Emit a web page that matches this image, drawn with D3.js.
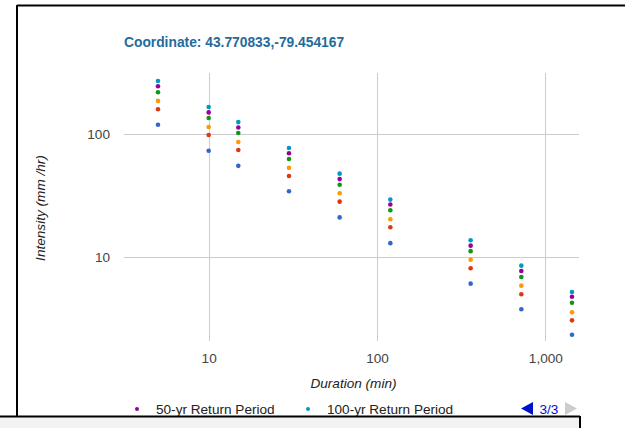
<!DOCTYPE html>
<html><head><meta charset="utf-8">
<script src="https://cdn.jsdelivr.net/npm/d3@7"></script>
<style>
html,body{margin:0;padding:0;background:#fff;}
svg{display:block;font-family:Arial,"Liberation Sans",sans-serif;}
</style></head>
<body><svg id="c" width="625" height="428"></svg>
<script>
const title = "Coordinate: 43.770833,-79.454167";
const durations = [5, 10, 15, 30, 60, 120, 360, 720, 1440];
const seriesNames = ["2-yr Return Period","5-yr Return Period","10-yr Return Period","25-yr Return Period","50-yr Return Period","100-yr Return Period"];
const seriesColors = ["#3366cc","#dc3912","#ff9900","#109618","#990099","#0099c6"];
const yr2   = [119, 73, 55, 34.1, 20.9, 12.9, 6.03, 3.73, 2.31];
const yr5   = [159, 98, 74, 45.5, 28.1, 17.4, 8.04, 4.94, 3.03];
const yr10  = [186, 114, 86, 53.1, 32.9, 20.2, 9.46, 5.81, 3.52];
const yr25  = [219, 135, 102, 62.6, 38.6, 23.9, 11.1, 6.83, 4.22];
const yr50  = [245, 150, 113, 69.6, 42.9, 26.6, 12.3, 7.64, 4.72];
const yr100 = [270, 166, 125, 76.9, 47.5, 29.2, 13.6, 8.45, 5.16];
const seriesValues = [yr2, yr5, yr10, yr25, yr50, yr100];
const xTicks = [10, 100, 1000];
const yTicks = [10, 100];
const legendShown = [4, 5];
const pagerText = "3/3";

const svg = d3.select("#c");
const L = 124, R = 579, T = 73, B = 341;
const FS = 13.6;
const x = d3.scaleLog().domain([Math.pow(10,0.497), Math.pow(10,3.2)]).range([L, R]);
const y = d3.scaleLog().domain([Math.pow(10,0.313), Math.pow(10,2.497)]).range([B, T]);

// frame
svg.append("line").attr("x1",17).attr("x2",625).attr("y1",5.5).attr("y2",5.5).attr("stroke","#000").attr("stroke-width",2);
svg.append("line").attr("x1",17).attr("x2",17).attr("y1",5).attr("y2",416).attr("stroke","#000").attr("stroke-width",2);

// gridlines
const g = svg.append("g");
g.selectAll(".vg").data(xTicks).join("line")
  .attr("x1",d=>Math.round(x(d))+0.5).attr("x2",d=>Math.round(x(d))+0.5)
  .attr("y1",T).attr("y2",B).attr("stroke","#cccccc");
g.selectAll(".hg").data(yTicks).join("line")
  .attr("y1",d=>Math.round(y(d))+0.5).attr("y2",d=>Math.round(y(d))+0.5)
  .attr("x1",L).attr("x2",R).attr("stroke","#cccccc");

// axis labels via d3 axes
const fmt = d3.format(",");
const xa = svg.append("g").attr("transform",`translate(0,${B})`)
  .call(d3.axisBottom(x).tickValues(xTicks).tickFormat(fmt).tickSize(0).tickPadding(12));
xa.select(".domain").remove();
xa.selectAll("text").attr("font-size",FS).attr("fill","#444").attr("font-family","Arial,'Liberation Sans',sans-serif");
const ya = svg.append("g").attr("transform",`translate(${L},0)`)
  .call(d3.axisLeft(y).tickValues(yTicks).tickFormat(fmt).tickSize(0).tickPadding(14));
ya.select(".domain").remove();
ya.selectAll("text").attr("font-size",FS).attr("fill","#444").attr("font-family","Arial,'Liberation Sans',sans-serif");

// points
seriesValues.forEach((vals, si) => {
  svg.append("g").selectAll("circle").data(vals.map((v,i)=>({d:durations[i], v})))
    .join("circle").attr("cx",p=>x(p.d)).attr("cy",p=>y(p.v)).attr("r",2.3)
    .attr("fill",seriesColors[si]);
});

// title
svg.append("text").attr("x",124).attr("y",46.5).text(title)
  .attr("font-size",13.8).attr("font-weight","bold").attr("fill","#1f6c9c");

// axis titles
svg.append("text").attr("x",(L+R)/2+2).attr("y",388).attr("text-anchor","middle")
  .attr("font-size",FS).attr("font-style","italic").attr("fill","#222").text("Duration (min)");
svg.append("text").attr("transform","translate(45,208) rotate(-90)").attr("text-anchor","middle")
  .attr("font-size",FS).attr("font-style","italic").attr("fill","#222").text("Intensity (mm /hr)");

// legend
const legX = [137, 308];
legendShown.forEach((si, k) => {
  svg.append("circle").attr("cx",legX[k]).attr("cy",409).attr("r",2).attr("fill",seriesColors[si]);
  svg.append("text").attr("x",legX[k]+19).attr("y",413.5).attr("font-size",FS).attr("fill","#222").text(seriesNames[si]);
});
// pager
svg.append("path").attr("d","M521,408.5 L533,402 L533,415 Z").attr("fill","#0011cc");
svg.append("text").attr("x",539.5).attr("y",413.5).attr("font-size",FS).attr("fill","#0011cc").text(pagerText);
svg.append("path").attr("d","M577,408.5 L565,402 L565,415 Z").attr("fill","#cccccc");

// bottom overlay box
svg.append("rect").attr("x",0).attr("y",416).attr("width",580).attr("height",14).attr("fill","#f2f2f2");
svg.append("line").attr("x1",0).attr("x2",580).attr("y1",416.5).attr("y2",416.5).attr("stroke","#000").attr("stroke-width",2);
svg.append("line").attr("x1",580).attr("x2",580).attr("y1",416).attr("y2",428).attr("stroke","#000").attr("stroke-width",2);
</script></body></html>
